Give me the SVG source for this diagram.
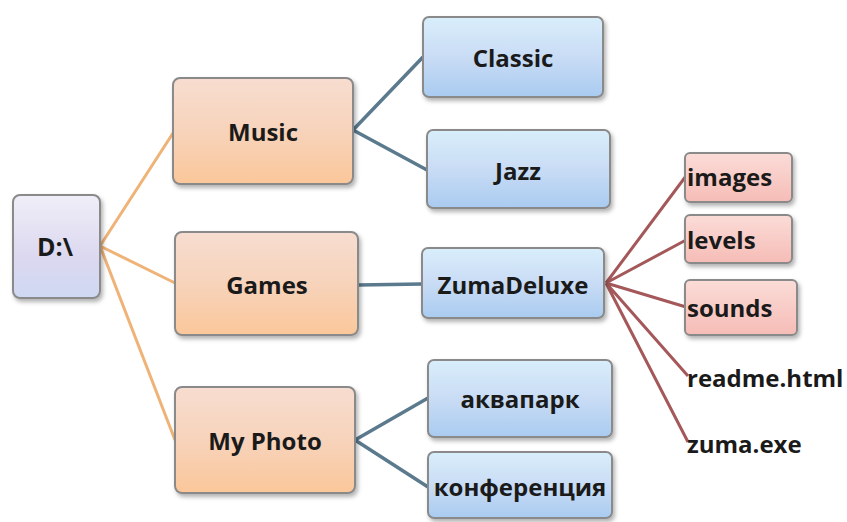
<svg xmlns="http://www.w3.org/2000/svg" width="847" height="522" viewBox="0 0 847 522">
<defs>
<linearGradient id="gRoot" x1="0" y1="0" x2="0" y2="1"><stop offset="0" stop-color="#f0eef8"/><stop offset="0.6" stop-color="#dcd8f0"/><stop offset="1" stop-color="#cfd8f2"/></linearGradient>
<linearGradient id="gOr" x1="0" y1="0" x2="0" y2="1"><stop offset="0" stop-color="#f7ddd0"/><stop offset="0.5" stop-color="#f7d3bb"/><stop offset="1" stop-color="#fbc79a"/></linearGradient>
<linearGradient id="gBl" x1="0" y1="0" x2="0" y2="1"><stop offset="0" stop-color="#d9eefb"/><stop offset="0.5" stop-color="#c9dcf5"/><stop offset="1" stop-color="#a9cbf0"/></linearGradient>
<linearGradient id="gPk" x1="0" y1="0" x2="0" y2="1"><stop offset="0" stop-color="#fbdcd8"/><stop offset="1" stop-color="#f6bcb6"/></linearGradient>
<filter id="sh" x="-10%" y="-10%" width="125%" height="130%"><feDropShadow dx="2" dy="3" stdDeviation="2" flood-color="#000" flood-opacity="0.3"/></filter>
</defs>
<style>
.box{stroke:#8a8a8a;stroke-width:2;filter:url(#sh)}
.t{font-family:"Open Sans","Noto Sans","Liberation Sans",sans-serif;font-weight:bold;fill:#1a1a1a;text-anchor:middle;dominant-baseline:central}
.tl{font-family:"Open Sans","Noto Sans","Liberation Sans",sans-serif;font-weight:bold;fill:#1a1a1a;dominant-baseline:central}
.co{stroke:#efb377;stroke-width:3;fill:none}
.cb{stroke:#5b7a8e;stroke-width:3.5;fill:none}
.cr{stroke:#a4585a;stroke-width:3;fill:none}
</style>
<rect width="847" height="522" fill="#ffffff"/>
<g id="connectors">
<path class="co" d="M100 246 L175 130 M100 246 L175 283 M100 246 L175 440"/>
<path class="cb" d="M353 130 L423 57 M353 130 L427 170 M358 285 L422 284 M355 440 L428 398 M355 440 L428 487"/>
<path class="cr" d="M606 283 L686 176 M606 283 L686 240 M606 283 L686 307 M606 283 L688 376 M606 283 L688 442"/>
</g>
<g id="root"><rect class="box" x="13" y="195" width="87" height="103" rx="7" fill="url(#gRoot)"/><text class="t" x="55" y="246" font-size="25">D:\</text></g>
<g id="music"><rect class="box" x="173" y="78" width="180" height="106" rx="7" fill="url(#gOr)"/><text class="t" x="263" y="131" font-size="24">Music</text></g>
<g id="games"><rect class="box" x="175" y="232" width="183" height="103" rx="7" fill="url(#gOr)"/><text class="t" x="267" y="284" font-size="24">Games</text></g>
<g id="myphoto"><rect class="box" x="175" y="387" width="180" height="106" rx="7" fill="url(#gOr)"/><text class="t" x="265" y="440" font-size="24">My Photo</text></g>
<g id="classic"><rect class="box" x="423" y="17" width="180" height="80" rx="6" fill="url(#gBl)"/><text class="t" x="513" y="57" font-size="24">Classic</text></g>
<g id="jazz"><rect class="box" x="427" y="130" width="183" height="78" rx="6" fill="url(#gBl)"/><text class="t" x="518" y="170" font-size="24">Jazz</text></g>
<g id="zumadeluxe"><rect class="box" x="422" y="248" width="182" height="70" rx="6" fill="url(#gBl)"/><text class="t" x="513" y="284" font-size="24">ZumaDeluxe</text></g>
<g id="aquapark"><rect class="box" x="428" y="360" width="184" height="77" rx="6" fill="url(#gBl)"/><text class="t" x="520" y="398" font-size="24">аквапарк</text></g>
<g id="conference"><rect class="box" x="428" y="452" width="184" height="66" rx="6" fill="url(#gBl)"/><text class="t" x="520" y="486" font-size="24">конференция</text></g>
<g id="images"><rect class="box" x="685" y="153" width="107" height="49" rx="5" fill="url(#gPk)"/><text class="tl" x="687" y="176" font-size="24">images</text></g>
<g id="levels"><rect class="box" x="685" y="215" width="107" height="48" rx="5" fill="url(#gPk)"/><text class="tl" x="687" y="239" font-size="24">levels</text></g>
<g id="sounds"><rect class="box" x="685" y="280" width="112" height="55" rx="5" fill="url(#gPk)"/><text class="tl" x="687" y="307" font-size="24">sounds</text></g>
<g id="readme"><text class="tl" x="687" y="377" font-size="24">readme.html</text></g>
<g id="zumaexe"><text class="tl" x="687" y="443" font-size="24">zuma.exe</text></g>
</svg>
